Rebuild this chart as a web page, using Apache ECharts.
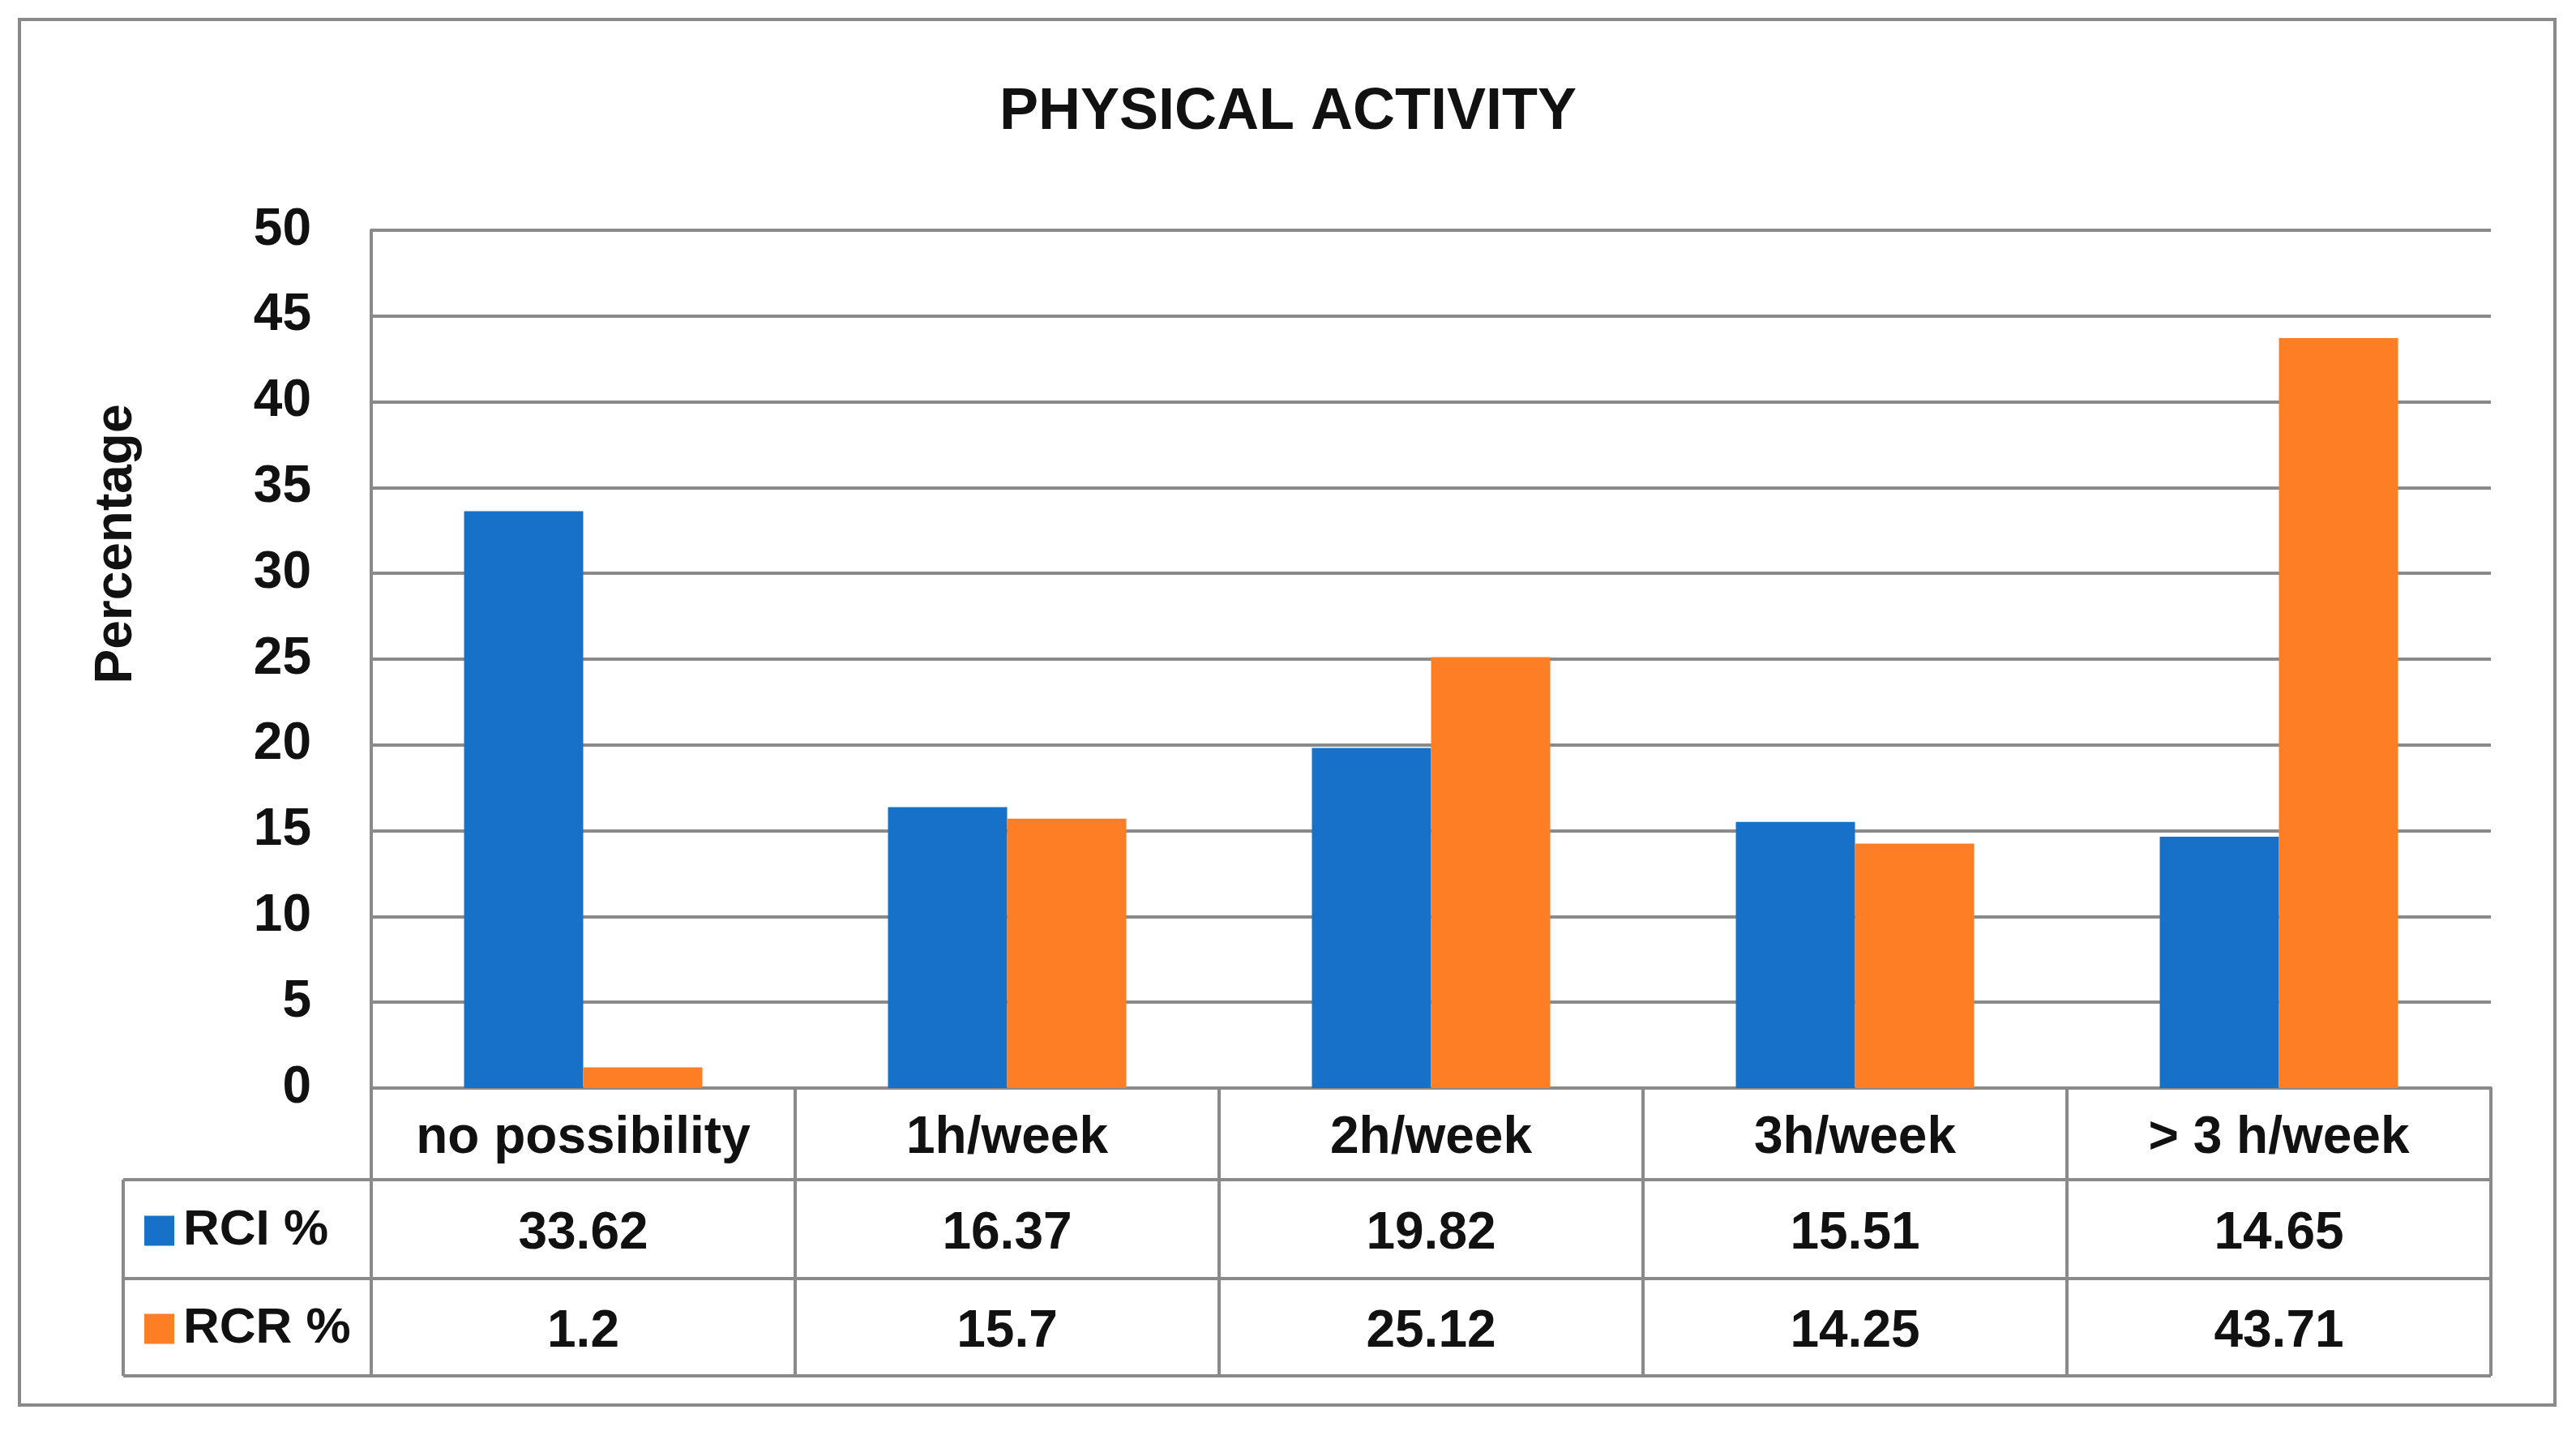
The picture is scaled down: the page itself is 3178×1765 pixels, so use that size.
<!DOCTYPE html>
<html>
<head>
<meta charset="utf-8">
<script src="https://cdn.jsdelivr.net/npm/echarts@6/dist/echarts.min.js"></script>
<style>
html,body{margin:0;padding:0;background:#fff;}
#c{width:3178px;height:1765px;}
</style>
</head>
<body>
<div id="c"></div>
<script>
const categories = ['no possibility', '1h/week', '2h/week', '3h/week', '> 3 h/week'];
const seriesNames = ['RCI %', 'RCR %'];
const rciValues = [33.62, 16.37, 19.82, 15.51, 14.65];
const rcrValues = [1.2, 15.7, 25.12, 14.25, 43.71];
const yTicks = { min: 0, max: 50, interval: 5 };

const FONT = 'Liberation Sans';
const GRID = '#8a8a8a';
const BLUE = '#1771c9';
const ORANGE = '#fe7e25';

const gridLeft = 458, gridRight = 3073, gridTop = 284, gridBottom = 1342;
const row1 = 1455, row2 = 1577, row3 = 1697, legendLeft = 152;

const chart = echarts.init(document.getElementById('c'), null, { renderer: 'canvas' });

const labelStyle = { fontFamily: FONT, fontWeight: 'bold', fontSize: 64, color: '#111' };

function legendFor(name, center) {
  return {
    orient: 'vertical',
    left: 178,
    top: center - 32,
    padding: 0,
    itemWidth: 37,
    itemHeight: 37,
    icon: 'rect',
    data: [name],
    textStyle: { fontFamily: FONT, fontWeight: 'bold', fontSize: 62, color: '#111', lineHeight: 64, padding: [0, 0, 0, 6] }
  };
}

const option = {
  backgroundColor: '#fff',
  animation: false,
  title: {
    text: 'PHYSICAL ACTIVITY',
    left: 'center',
    top: 98,
    textStyle: { fontFamily: FONT, fontWeight: 'bold', fontSize: 72, color: '#111' }
  },
  legend: [
    legendFor(seriesNames[0], (row1 + row2) / 2 + 2),
    legendFor(seriesNames[1], (row2 + row3) / 2 + 2)
  ],
  grid: {
    left: gridLeft,
    right: 3178 - gridRight,
    top: gridTop,
    bottom: 1765 - gridBottom,
    containLabel: false
  },
  xAxis: [
    {
      type: 'category',
      data: categories,
      boundaryGap: true,
      axisLine: { show: true, lineStyle: { color: GRID, width: 4 } },
      axisTick: { show: true, interval: 0, length: row3 - gridBottom, lineStyle: { color: GRID, width: 4 } },
      axisLabel: Object.assign({ interval: 0, margin: 6, lineHeight: row1 - gridBottom, verticalAlign: 'top' }, labelStyle),
      splitLine: { show: false }
    },
    {
      type: 'category',
      data: categories,
      position: 'bottom',
      offset: row1 - gridBottom,
      axisLine: { show: false },
      axisTick: { show: false },
      axisLabel: Object.assign({ interval: 0, margin: 6, lineHeight: row2 - row1, verticalAlign: 'top',
        formatter: (v, i) => String(rciValues[i]) }, labelStyle),
      splitLine: { show: false }
    },
    {
      type: 'category',
      data: categories,
      position: 'bottom',
      offset: row2 - gridBottom,
      axisLine: { show: false },
      axisTick: { show: false },
      axisLabel: Object.assign({ interval: 0, margin: 6, lineHeight: row3 - row2, verticalAlign: 'top',
        formatter: (v, i) => String(rcrValues[i]) }, labelStyle),
      splitLine: { show: false }
    }
  ],
  yAxis: {
    type: 'value',
    min: yTicks.min,
    max: yTicks.max,
    interval: yTicks.interval,
    name: 'Percentage',
    nameLocation: 'middle',
    nameRotate: 90,
    nameGap: 282,
    nameTextStyle: { fontFamily: FONT, fontWeight: 'bold', fontSize: 64, color: '#111', padding: [0, 0, 0, 284] },
    axisLine: { show: true, lineStyle: { color: GRID, width: 4 } },
    axisTick: { show: false },
    axisLabel: Object.assign({ margin: 74 }, labelStyle),
    splitLine: { show: true, lineStyle: { color: GRID, width: 4 } }
  },
  series: [
    {
      name: seriesNames[0],
      type: 'bar',
      xAxisIndex: 0,
      data: rciValues,
      barWidth: 147,
      barGap: '0%',
      itemStyle: { color: BLUE }
    },
    {
      name: seriesNames[1],
      type: 'bar',
      xAxisIndex: 0,
      data: rcrValues,
      barWidth: 147,
      barGap: '0%',
      itemStyle: { color: ORANGE }
    }
  ],
  graphic: [
    { type: 'rect', shape: { x: 24, y: 24, width: 3128, height: 1709 }, style: { fill: null, stroke: '#8a8a8a', lineWidth: 4 }, z: 100 },
    { type: 'line', shape: { x1: legendLeft, y1: row1, x2: gridRight, y2: row1 }, style: { stroke: GRID, lineWidth: 4 }, z: 100 },
    { type: 'line', shape: { x1: legendLeft, y1: row2, x2: gridRight, y2: row2 }, style: { stroke: GRID, lineWidth: 4 }, z: 100 },
    { type: 'line', shape: { x1: legendLeft, y1: row3, x2: gridRight, y2: row3 }, style: { stroke: GRID, lineWidth: 4 }, z: 100 },
    { type: 'line', shape: { x1: legendLeft, y1: row1, x2: legendLeft, y2: row3 }, style: { stroke: GRID, lineWidth: 4 }, z: 100 }
  ]
};

chart.setOption(option);
</script>
</body>
</html>
